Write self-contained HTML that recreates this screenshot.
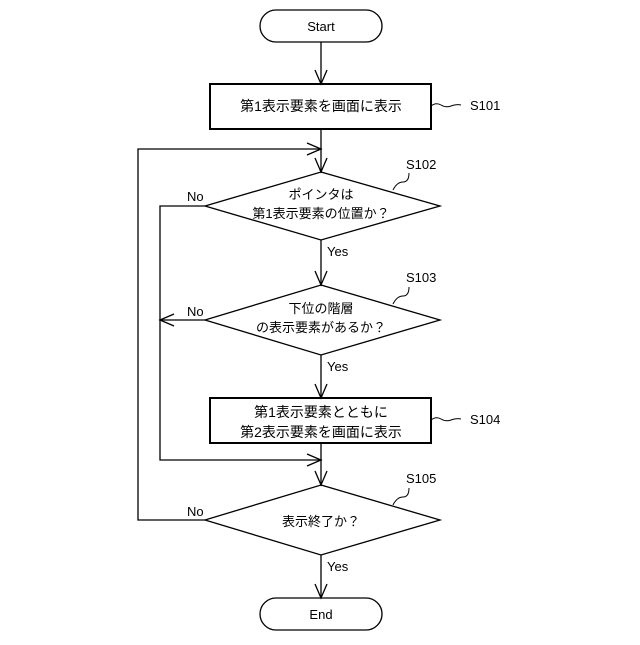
<!DOCTYPE html>
<html><head><meta charset="utf-8"><style>
body{margin:0;background:#fff}
svg text{font-family:"Liberation Sans","Noto Sans CJK JP",sans-serif;fill:#000}
</style></head><body>
<svg width="640" height="640" viewBox="0 0 640 640" xmlns="http://www.w3.org/2000/svg">
<g fill="none" stroke="#000" stroke-width="1.3">
<rect x="260" y="10" width="122" height="32" rx="16"/>
<rect x="210" y="84" width="221" height="45" stroke-width="2"/>
<polygon points="321,172 440,206 321,240 205,206"/>
<polygon points="321,285 440,320 321,355 205,320"/>
<rect x="210" y="398" width="221" height="45" stroke-width="2"/>
<polygon points="321,485 440,520 321,555 205,520"/>
<rect x="260" y="598" width="122" height="32" rx="16"/>
<!-- main vertical -->
<line x1="321" y1="42" x2="321" y2="84"/>
<line x1="321" y1="129" x2="321" y2="172"/>
<line x1="321" y1="240" x2="321" y2="285"/>
<line x1="321" y1="355" x2="321" y2="398"/>
<line x1="321" y1="443" x2="321" y2="485"/>
<line x1="321" y1="555" x2="321" y2="598"/>
<!-- arrowheads -->
<polyline points="315,70 321,84 327,70"/>
<polyline points="315,158 321,172 327,158"/>
<polyline points="315,271 321,285 327,271"/>
<polyline points="315,384 321,398 327,384"/>
<polyline points="315,471 321,485 327,471"/>
<polyline points="315,584 321,598 327,584"/>
<!-- loops -->
<polyline points="205,520 138,520 138,149 321,149"/>
<polyline points="307,143 321,149 307,155"/>
<polyline points="205,206 160,206 160,460 321,460"/>
<polyline points="307,454 321,460 307,466"/>
<line x1="205" y1="320" x2="160" y2="320"/>
<polyline points="174,314 160,320 174,326"/>
<!-- squiggles -->
<path d="M431,106 q5,-4 10,-1 t10,1 t10,-1" stroke-width="1"/>
<path d="M431,420 q5,-4 10,-1 t10,1 t10,-1" stroke-width="1"/>
<path d="M393,190 q4,-8 10,-8 t6,-9" stroke-width="1"/>
<path d="M393,304 q4,-8 10,-8 t6,-9" stroke-width="1"/>
<path d="M393,505 q4,-8 10,-8 t6,-9" stroke-width="1"/>
</g>
<g font-size="13" text-anchor="middle">
<text x="321" y="31">Start</text>
<text x="321" y="619">End</text>
<text x="321" y="111" font-size="14">第1表示要素を画面に表示</text>
<text x="321" y="199">ポインタは</text>
<text x="321" y="218">第1表示要素の位置か？</text>
<text x="321" y="313">下位の階層</text>
<text x="321" y="332">の表示要素があるか？</text>
<text x="321" y="417" font-size="14">第1表示要素とともに</text>
<text x="321" y="437" font-size="14">第2表示要素を画面に表示</text>
<text x="321" y="526">表示終了か？</text>
</g>
<g font-size="13">
<text x="470" y="110">S101</text>
<text x="406" y="169">S102</text>
<text x="406" y="282">S103</text>
<text x="470" y="424">S104</text>
<text x="406" y="483">S105</text>
<text x="187" y="201">No</text>
<text x="187" y="316">No</text>
<text x="187" y="516">No</text>
<text x="327" y="256">Yes</text>
<text x="327" y="371">Yes</text>
<text x="327" y="571">Yes</text>
</g>
</svg>
</body></html>
